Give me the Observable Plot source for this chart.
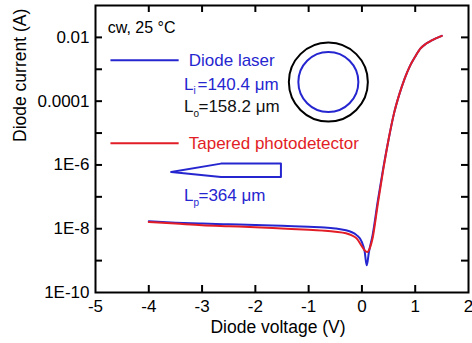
<!DOCTYPE html>
<html><head><meta charset="utf-8">
<script src="https://cdn.jsdelivr.net/npm/d3@7"></script>
<script src="https://cdn.jsdelivr.net/npm/@observablehq/plot@0.6"></script>
<style>html,body{margin:0;padding:0;background:#fff}#chart svg{display:block}</style>
</head><body><div id="chart"></div>
<script>
// Diode laser (blue)
const laserVoltage = [-4, -3.5, -3, -2.5, -2, -1.5, -1, -0.7, -0.5, -0.3, -0.2, -0.1, 0, 0.05, 0.09, 0.13, 0.2, 0.3, 0.4, 0.5, 0.6, 0.7, 0.8, 0.9, 1.0, 1.1, 1.2, 1.3, 1.4, 1.5];
const laserCurrent = [1.70e-8, 1.55e-8, 1.45e-8, 1.38e-8, 1.32e-8, 1.23e-8, 1.15e-8, 1.10e-8, 1.02e-8, 8.9e-9, 7.9e-9, 6.3e-9, 3.8e-9, 2.0e-9, 7.1e-10, 1.8e-9, 6.3e-9, 7.9e-8, 7.9e-7, 6.3e-6, 4.0e-5, 1.6e-4, 5.0e-4, 1.26e-3, 2.5e-3, 4.5e-3, 6.3e-3, 7.9e-3, 9.5e-3, 1.12e-2];
// Tapered photodetector (red)
const detVoltage = [-4, -3.5, -3, -2.5, -2, -1.5, -1, -0.7, -0.5, -0.3, -0.2, -0.1, 0, 0.05, 0.1, 0.15, 0.2, 0.3, 0.4, 0.5, 0.6, 0.7, 0.8, 0.9, 1.0, 1.1, 1.2, 1.3, 1.4, 1.5];
const detCurrent = [1.62e-8, 1.45e-8, 1.29e-8, 1.20e-8, 1.12e-8, 1.02e-8, 9.3e-9, 8.7e-9, 8.1e-9, 7.2e-9, 6.3e-9, 5.0e-9, 2.8e-9, 2.1e-9, 1.86e-9, 2.5e-9, 5.0e-9, 6.3e-8, 7.1e-7, 6.3e-6, 4.0e-5, 1.6e-4, 5.0e-4, 1.26e-3, 2.5e-3, 4.5e-3, 6.3e-3, 7.9e-3, 9.5e-3, 1.12e-2];

const seriesNames = ["Diode laser", "Tapered photodetector"];
const xTickValues = [-5, -4, -3, -2, -1, 0, 1, 2];
const yTickValues = [1e-10, 1e-9, 1e-8, 1e-7, 1e-6, 1e-5, 1e-4, 1e-3, 1e-2];
const yLabelValues = [1e-10, 1e-8, 1e-6, 1e-4, 1e-2];
const yLabelText = ["1E-10", "1E-8", "1E-6", "0.0001", "0.01"];
const conditionText = "cw, 25 °C";
const innerLength = "=140.4 μm";
const outerLength = "=158.2 μm";
const taperLength = "=364 μm";
// taper outline (voltage / current coordinates of the inset sketch)
const taperV = [-3.58, -2.645, -1.52, -1.52, -2.645, -3.58];
const taperI = [6.0e-7, 1.1e-6, 1.1e-6, 4.2e-7, 4.2e-7, 6.0e-7];

const BLUE = "#2626d0", RED = "#e21d26";
const laser = laserVoltage.map((v, k) => ({v, c: laserCurrent[k]}));
const det = detVoltage.map((v, k) => ({v, c: detCurrent[k]}));
const taper = taperV.map((v, k) => ({v, c: taperI[k]}));
const fmtY = d => {
  const k = yLabelValues.findIndex(v => Math.abs(Math.log10(v) - Math.log10(d)) < 1e-6);
  return k >= 0 ? yLabelText[k] : "";
};

const W = 472, H = 343, ML = 95, MR = 4, MT = 5, MB = 51, TK = 7;
const PW = W - ML - MR, PH = H - MT - MB;
const innerX = xTickValues.slice(1, -1);
const innerY = yTickValues.slice(1);

const chart = Plot.plot({
  width: W, height: H,
  marginLeft: ML, marginRight: MR, marginTop: MT, marginBottom: MB,
  style: {fontFamily: "'Liberation Sans', Arial, sans-serif", fontSize: "17px", color: "#000", background: "#fff"},
  x: {domain: [-5, 2]},
  y: {type: "log", domain: [1e-10, 1e-1]},
  marks: [
    Plot.axisX({ticks: xTickValues, tickSize: 0, tickPadding: 7, tickFormat: d => String(d), label: null}),
    Plot.axisY({ticks: yLabelValues, tickSize: 0, tickPadding: 6, tickFormat: fmtY, label: null}),
    // inward ticks on all four sides
    Plot.ruleX(innerX, {x: d => d, insetTop: PH - TK, stroke: "#000", strokeWidth: 2}),
    Plot.ruleX(innerX, {x: d => d, insetBottom: PH - TK, stroke: "#000", strokeWidth: 2}),
    Plot.ruleY(innerY, {y: d => d, insetRight: PW - TK, stroke: "#000", strokeWidth: 2}),
    Plot.ruleY(innerY, {y: d => d, insetLeft: PW - TK, stroke: "#000", strokeWidth: 2}),
    Plot.text(["Diode voltage (V)"], {frameAnchor: "bottom", dy: 40, dx: -4, fontSize: 17.5}),
    Plot.text(["Diode current (A)"], {frameAnchor: "left", rotate: -90, dx: -75, dy: -7, fontSize: 17.5}),
    Plot.line(laser, {x: "v", y: "c", stroke: BLUE, strokeWidth: 2, curve: "monotone-x"}),
    Plot.line(det, {x: "v", y: "c", stroke: RED, strokeWidth: 2, curve: "monotone-x"}),
    // legend / annotations
    Plot.text([conditionText], {x: -4.77, y: 10 ** -1.71, textAnchor: "start", fontSize: 16}),
    Plot.ruleY([10 ** -2.72], {x1: -4.71, x2: -3.43, stroke: BLUE, strokeWidth: 2}),
    Plot.text([seriesNames[0]], {x: -3.25, y: 10 ** -2.72, textAnchor: "start", fill: BLUE}),
    Plot.text(["L"], {x: -3.34, y: 10 ** -3.47, textAnchor: "start", fill: BLUE}),
    Plot.text(["i"], {x: -3.34, y: 10 ** -3.47, dx: 9.5, dy: 7, textAnchor: "start", fill: BLUE, fontSize: 10}),
    Plot.text([innerLength], {x: -3.34, y: 10 ** -3.47, dx: 13.5, textAnchor: "start", fill: BLUE}),
    Plot.text(["L"], {x: -3.34, y: 10 ** -4.16, textAnchor: "start", fill: "#111"}),
    Plot.text(["o"], {x: -3.34, y: 10 ** -4.16, dx: 9.5, dy: 8, textAnchor: "start", fill: "#111", fontSize: 10}),
    Plot.text([outerLength], {x: -3.34, y: 10 ** -4.16, dx: 14.5, textAnchor: "start", fill: "#111"}),
    Plot.dot([{v: -0.63, c: 10 ** -3.40}], {x: "v", y: "c", r: 39.5, stroke: "#000", strokeWidth: 2, fill: "none"}),
    Plot.dot([{v: -0.63, c: 10 ** -3.40}], {x: "v", y: "c", r: 30, stroke: BLUE, strokeWidth: 2, fill: "none"}),
    Plot.ruleY([10 ** -5.32], {x1: -4.71, x2: -3.43, stroke: RED, strokeWidth: 2}),
    Plot.text([seriesNames[1]], {x: -3.25, y: 10 ** -5.32, textAnchor: "start", fill: RED}),
    Plot.line(taper, {x: "v", y: "c", stroke: BLUE, strokeWidth: 2}),
    Plot.text(["L"], {x: -3.34, y: 10 ** -6.95, textAnchor: "start", fill: BLUE}),
    Plot.text(["p"], {x: -3.34, y: 10 ** -6.95, dx: 9.5, dy: 8, textAnchor: "start", fill: BLUE, fontSize: 10}),
    Plot.text([taperLength], {x: -3.34, y: 10 ** -6.95, dx: 14.5, textAnchor: "start", fill: BLUE}),
    Plot.frame({stroke: "#000", strokeWidth: 2})
  ]
});
document.getElementById("chart").appendChild(chart);
</script>
</body></html>
